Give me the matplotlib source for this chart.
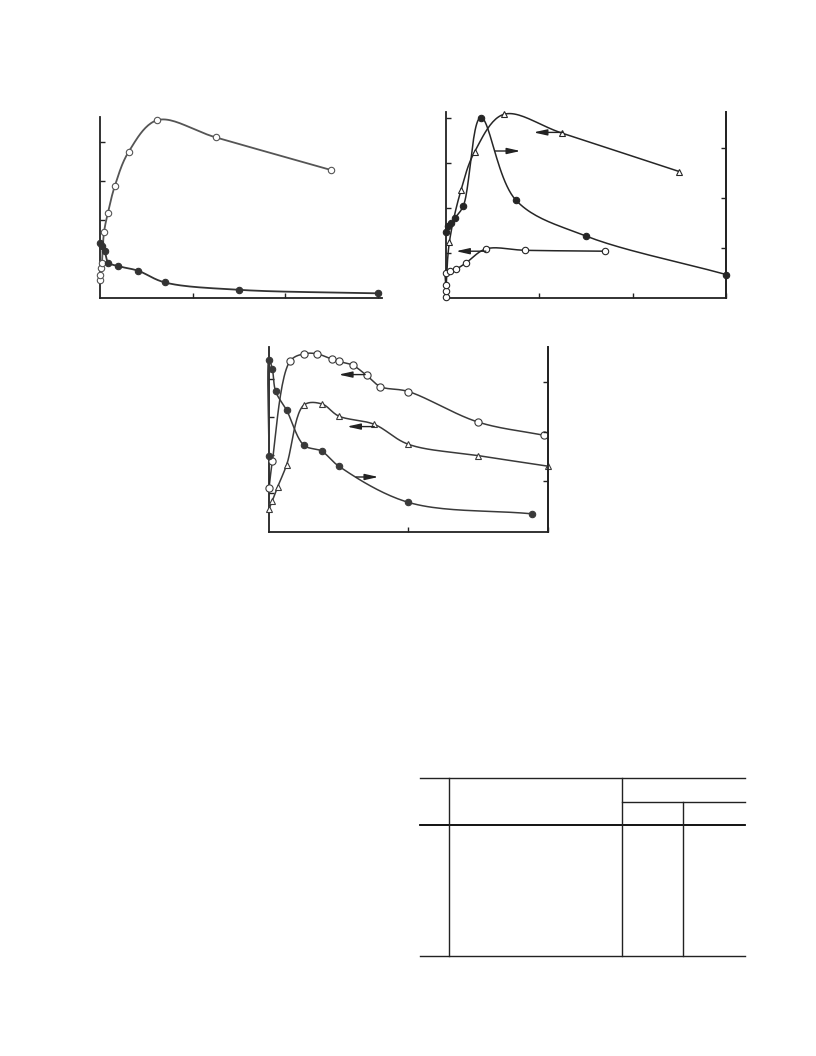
import numpy as np
import matplotlib
matplotlib.use("Agg")
import matplotlib.pyplot as plt

# ---------------- data ----------------
# Panel 1
p1_open_x = [0.0, 0.005, 0.01, 0.02, 0.043, 0.086, 0.16, 0.31, 0.62, 1.25, 2.50]
p1_open_y = [0.46, 0.59, 0.77, 0.90, 1.68, 2.19, 2.87, 3.75, 4.56, 4.12, 3.28]
p1_fill_x = [0.0, 0.018, 0.05, 0.09, 0.19, 0.41, 0.70, 1.50, 3.00]
p1_fill_y = [1.40, 1.33, 1.20, 0.91, 0.82, 0.70, 0.40, 0.21, 0.12]

# Panel 2 (triangles / open circles on left axis, filled on right axis)
p2_tri_x = [0.0, 0.04, 0.164, 0.31, 0.62, 1.25, 2.50]
p2_tri_y = [0.10, 1.25, 2.40, 3.25, 4.08, 3.66, 2.81]
p2_open_x = [0.0, 0.0, 0.0, 0.0, 0.046, 0.11, 0.217, 0.43, 0.85, 1.70]
p2_open_y = [0.03, 0.15, 0.30, 0.55, 0.60, 0.64, 0.78, 1.09, 1.06, 1.04]
p2_fill_x = [0.0, 0.02, 0.06, 0.10, 0.19, 0.375, 0.75, 1.50, 3.00]
p2_fill_y = [1.33, 1.45, 1.50, 1.60, 1.85, 3.61, 1.96, 1.24, 0.47]

# Panel 3 (open circles / triangles on left axis, filled on right axis)
p3_open_x = [0.0, 0.024, 0.15, 0.25, 0.345, 0.45, 0.50, 0.60, 0.70, 0.80, 1.00, 1.50, 1.97]
p3_open_y = [1.11, 1.83, 4.48, 4.68, 4.68, 4.54, 4.48, 4.38, 4.11, 3.81, 3.68, 2.87, 2.52]
p3_tri_x = [0.0, 0.024, 0.062, 0.127, 0.25, 0.38, 0.50, 0.755, 1.00, 1.50, 2.00]
p3_tri_y = [0.56, 0.78, 1.15, 1.74, 3.32, 3.35, 3.03, 2.81, 2.28, 1.98, 1.70]
p3_fill_x = [0.0, 0.0, 0.024, 0.048, 0.127, 0.25, 0.378, 0.50, 1.00, 1.886]
p3_fill_y = [1.51, 3.45, 3.26, 2.81, 2.43, 1.73, 1.61, 1.31, 0.58, 0.35]

# ---------------- helpers ----------------
W, H = 816, 1056
fig = plt.figure(figsize=(W / 100, H / 100), dpi=100)


def box(l, r, t, b):
    return [l / W, 1 - b / H, (r - l) / W, (b - t) / H]


def catmull(x, y, ax, n=24, alpha=0.5):
    """Centripetal Catmull-Rom curve through the points, computed in pixel space."""
    x = np.asarray(x, float); y = np.asarray(y, float)
    x0, x1 = ax.get_xlim(); y0, y1 = ax.get_ylim()
    bb = ax.get_position()
    sx = bb.width * W / (x1 - x0); sy = bb.height * H / (y1 - y0)
    P = np.column_stack([(x - x0) * sx, (y - y0) * sy])
    P = np.vstack([2 * P[0] - P[1], P, 2 * P[-1] - P[-2]])
    out = []
    for i in range(1, len(P) - 2):
        p0, p1, p2, p3 = P[i - 1], P[i], P[i + 1], P[i + 2]
        t0 = 0.0
        t1 = t0 + max(np.linalg.norm(p1 - p0), 1e-3) ** alpha
        t2 = t1 + max(np.linalg.norm(p2 - p1), 1e-3) ** alpha
        t3 = t2 + max(np.linalg.norm(p3 - p2), 1e-3) ** alpha
        t = np.linspace(t1, t2, n)[:, None]
        A1 = (t1 - t) / (t1 - t0) * p0 + (t - t0) / (t1 - t0) * p1
        A2 = (t2 - t) / (t2 - t1) * p1 + (t - t1) / (t2 - t1) * p2
        A3 = (t3 - t) / (t3 - t2) * p2 + (t - t2) / (t3 - t2) * p3
        B1 = (t2 - t) / (t2 - t0) * A1 + (t - t0) / (t2 - t0) * A2
        B2 = (t3 - t) / (t3 - t1) * A2 + (t - t1) / (t3 - t1) * A3
        C = (t2 - t) / (t2 - t1) * B1 + (t - t1) / (t2 - t1) * B2
        out.append(C)
    C = np.vstack(out)
    return C[:, 0] / sx + x0, C[:, 1] / sy + y0


def series(ax, x, y, marker, filled, color, ms=4.6, lw=1.1):
    sx, sy = catmull(x, y, ax)
    ax.plot(sx, sy, '-', color=color, lw=lw, zorder=2, clip_on=False)
    ax.plot(x, y, linestyle='none', marker=marker, ms=ms, mew=0.8,
            mec=color, mfc=color if filled else 'white', zorder=3, clip_on=False)


def style(ax, left=True, right=False):
    ax.spines['top'].set_visible(False)
    ax.spines['right'].set_visible(right)
    ax.spines['left'].set_visible(left)
    for s in ['left', 'right', 'bottom']:
        ax.spines[s].set_linewidth(1.3)
        ax.spines[s].set_color('#222222')
    ax.tick_params(direction='in', length=3.5, width=1.0, colors='#222222',
                   labelleft=False, labelbottom=False, labelright=False)


def arrow(ax, tail, head):
    ax.annotate('', xy=head, xytext=tail,
                arrowprops=dict(arrowstyle='-|>,head_length=0.8,head_width=0.18',
                                lw=1.0, color='#222222',
                                mutation_scale=10, shrinkA=0, shrinkB=0))


# ---------------- panel 1 ----------------
ax1 = fig.add_axes(box(100, 382, 117, 298))
ax1.set_xlim(0, 282 / 92.5)
ax1.set_ylim(0, 181 / 39)
style(ax1)
ax1.set_xticks([1, 2, 3])
ax1.set_yticks([2, 3, 4])
series(ax1, p1_open_x, p1_open_y, 'o', False, '#555555', lw=1.3)
series(ax1, p1_fill_x, p1_fill_y, 'o', True, '#333333', lw=1.3)

# ---------------- panel 2 ----------------
ax2 = fig.add_axes(box(445.7, 726, 112, 298))
ax2.set_xlim(0, 3.0)
ax2.set_ylim(0, 186 / 45)
style(ax2, right=True)
ax2.set_xticks([1, 2, 3])
ax2.set_yticks([1, 2, 3, 4])
ax2r = ax2.twinx()
ax2r.set_ylim(0, 186 / 50)
ax2r.set_position(ax2.get_position())
style(ax2r, left=False, right=True)
ax2r.set_yticks([1, 2, 3])
ax2r.spines['bottom'].set_visible(False)
c2 = '#262626'
series(ax2, p2_tri_x, p2_tri_y, '^', False, c2)
series(ax2, p2_open_x, p2_open_y, 'o', False, c2)
series(ax2r, p2_fill_x, p2_fill_y, 'o', True, c2)
arrow(ax2, (1.25, 3.68), (0.94, 3.68))
arrow(ax2, (0.43, 1.04), (0.11, 1.04))
arrow(ax2r, (0.53, 2.94), (0.80, 2.94))

# ---------------- panel 3 ----------------
ax3 = fig.add_axes(box(269, 547.7, 346.7, 531.7))
ax3.set_xlim(0, 2.0)
ax3.set_ylim(-0.04, 4.87)
style(ax3, right=True)
ax3.set_xticks([1, 2])
ax3.set_yticks([1, 2, 3, 4])
ax3r = ax3.twinx()
ax3r.set_ylim(-0.01, 3.71)
ax3r.set_position(ax3.get_position())
style(ax3r, left=False, right=True)
ax3r.set_yticks([1, 2, 3])
ax3r.spines['bottom'].set_visible(False)
c3 = '#3a3a3a'
series(ax3, p3_open_x, p3_open_y, 'o', False, c3, ms=5.2)
series(ax3, p3_tri_x, p3_tri_y, '^', False, c3)
series(ax3r, p3_fill_x, p3_fill_y, 'o', True, c3)
arrow(ax3, (0.69, 4.13), (0.50, 4.13))
arrow(ax3, (0.755, 2.75), (0.56, 2.75))
arrow(ax3r, (0.625, 1.09), (0.785, 1.09))

# ---------------- empty table frame ----------------
axt = fig.add_axes([0, 0, 1, 1])
axt.set_xlim(0, W)
axt.set_ylim(H, 0)
axt.axis('off')
lc = '#222222'
axt.plot([420, 745], [778.3, 778.3], color=lc, lw=1.0)
axt.plot([621.7, 745], [801.7, 801.7], color=lc, lw=1.0)
axt.plot([420, 745], [825, 825], color='black', lw=1.3)
axt.plot([420, 745], [955.7, 955.7], color=lc, lw=1.0)
axt.plot([449.3, 449.3], [778.3, 955.7], color=lc, lw=1.0)
axt.plot([621.7, 621.7], [778.3, 955.7], color=lc, lw=1.0)
axt.plot([683.3, 683.3], [801.7, 955.7], color=lc, lw=1.0)

fig.savefig('out.png', dpi=100)
